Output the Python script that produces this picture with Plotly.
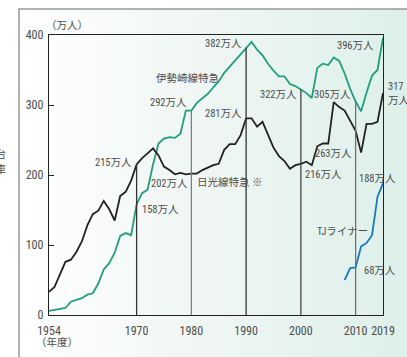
import base64
import plotly.graph_objects as go

# ---------------- data ----------------
year_pos = list(range(1954, 2016))          # plotted positions (last one is labelled 2019)
nikko_ltd = [33, 40, 58, 76, 79, 90, 105, 128, 144, 149, 163, 151, 135, 170, 176, 192,
             215, 224, 231, 238, 228, 212, 207, 201, 203, 201,
             202, 202, 207, 211, 214, 216, 236, 244, 244, 257,
             281, 281, 269, 276, 258, 239, 227, 220, 209, 214,
             216, 219, 214, 241, 245, 245, 304, 297, 292, 278,
             263, 232, 273, 273, 276, 317]
isesaki_ltd = [6, 7, 8, 10, 19, 21, 24, 29, 31, 45, 65, 74, 89, 113, 117, 114,
               158, 174, 179, 215, 245, 252, 254, 253, 259, 292,
               292, 303, 309, 316, 325, 334, 346, 355, 364, 372,
               382, 390, 379, 371, 359, 349, 341, 341, 330, 327,
               322, 317, 310, 353, 359, 357, 368, 363, 345, 323,
               305, 291, 318, 342, 350, 396]
tj_pos = list(range(2008, 2016))
tj_liner = [50, 67, 68, 98, 103, 114, 169, 188]

tick_pos = [1954, 1970, 1980, 1990, 2000, 2010, 2015]
tick_text = ["1954", "1970", "1980", "1990", "2000", "2010", "2019"]
drop_years = [1970, 1980, 1990, 2000, 2010]

# ---------------- geometry helpers ----------------
FW, FH = 407, 357
L, R, T, B = 49, 18, 35, 42
W, H = FW - L - R, FH - T - B


def px(x):
    return (x - L) / W


def py(y):
    return (T + H - y) / H


GREEN = "#1f9f7c"
BLACK = "#222222"
BLUE = "#1a78c4"
TXT = "#4d4d4d"
NUM_FONT = "Liberation Sans Narrow, Roboto Condensed, Noto Sans CJK JP, sans-serif"

fig = go.Figure()

# drop lines at decade years (to the highest series value that year)
drop_colors = ["#333333", "#808080", "#333333", "#444444", "#707070"]
for yr, col in zip(drop_years, drop_colors):
    i = year_pos.index(yr)
    top = max(nikko_ltd[i], isesaki_ltd[i])
    fig.add_shape(type="line", xref="x", yref="y", x0=yr, x1=yr, y0=0, y1=top,
                  line=dict(color=col, width=1.3), layer="above")

fig.add_trace(go.Scatter(x=year_pos, y=isesaki_ltd, mode="lines",
                         line=dict(color=GREEN, width=1.8), name="伊勢崎線特急",
                         cliponaxis=False))
fig.add_trace(go.Scatter(x=year_pos, y=nikko_ltd, mode="lines",
                         line=dict(color=BLACK, width=1.8), name="日光線特急",
                         cliponaxis=False))
fig.add_trace(go.Scatter(x=tj_pos, y=tj_liner, mode="lines",
                         line=dict(color=BLUE, width=1.8), name="TJライナー",
                         cliponaxis=False))

# background gradient panel with frame
svg = ("<svg xmlns='http://www.w3.org/2000/svg' width='400' height='360' preserveAspectRatio='none'>"
       "<defs><linearGradient id='g' x1='0' x2='1' y1='0' y2='0'>"
       "<stop offset='0' stop-color='#ffffff'/><stop offset='0.35' stop-color='#f3f8f6'/>"
       "<stop offset='1' stop-color='#dcefe8'/></linearGradient></defs>"
       "<rect width='400' height='360' fill='url(#g)'/></svg>")
src = "data:image/svg+xml;base64," + base64.b64encode(svg.encode()).decode()
bx0, bx1, by0, by1 = 18.5, 430, 9, 380
fig.add_layout_image(dict(source=src, xref="paper", yref="paper", x=px(bx0), y=py(by0),
                          sizex=px(bx1) - px(bx0), sizey=py(by0) - py(by1),
                          sizing="stretch", layer="below", xanchor="left", yanchor="top"))
fig.add_shape(type="rect", xref="paper", yref="paper", x0=px(bx0), x1=px(bx1),
              y0=py(by1), y1=py(by0), line=dict(color="#999999", width=1.5), layer="below")

# annotations
def note(text, x, y, xanchor="left", size=10.5, color=TXT):
    fig.add_annotation(text=text, xref="paper", yref="paper", x=px(x), y=py(y),
                       xanchor=xanchor, yanchor="middle", showarrow=False,
                       font=dict(size=size, color=color, family=NUM_FONT), align="left")

note("（万人）", 44, 26, size=10.5)
note("215万人", 136, 162.5, "right")
note("158万人", 141.5, 209)
note("202万人", 193, 183, "right")
note("日光線特急 ※", 197.5, 182)
note("292万人", 192, 102, "right")
note("伊勢崎線特急", 155.5, 78)
note("382万人", 247, 43, "right")
note("281万人", 247, 113.5, "right")
note("322万人", 303.5, 94, "right")
note("216万人", 307.5, 174)
note("305万人", 358, 94, "right")
note("263万人", 359.5, 153, "right")
note("396万人", 381.5, 46, "right")
note("317<br>万人", 392.5, 93)
note("188万人", 363, 178)
note("TJライナー", 319.5, 232)
note("68万人", 368, 270)
note("（年度）", 34, 342.5, size=10.5)
note("台", 7, 154, "right", size=10)
note("車", 7.5, 169, "right", size=10)

fig.update_layout(
    width=FW, height=FH,
    margin=dict(l=L, r=R, t=T, b=B, pad=0),
    paper_bgcolor="white", plot_bgcolor="rgba(0,0,0,0)",
    showlegend=False,
    font=dict(family=NUM_FONT, color=TXT, size=12),
)
fig.update_xaxes(range=[1954, 2015], tickvals=tick_pos, ticktext=tick_text,
                 showgrid=False, zeroline=False, showline=True, mirror=True,
                 linecolor=BLACK, linewidth=1.3, ticks="", ticklabelstandoff=4,
                 tickfont=dict(size=12, color=TXT, family=NUM_FONT))
fig.update_yaxes(range=[0, 400], tickvals=[0, 100, 200, 300, 400],
                 showgrid=False, zeroline=False, showline=True, mirror=True,
                 linecolor=BLACK, linewidth=1.3, ticks="inside", ticklen=5,
                 tickcolor=BLACK, tickwidth=1.2, ticklabelstandoff=2,
                 tickfont=dict(size=12, color=TXT, family=NUM_FONT))

fig.write_html("out.html")
